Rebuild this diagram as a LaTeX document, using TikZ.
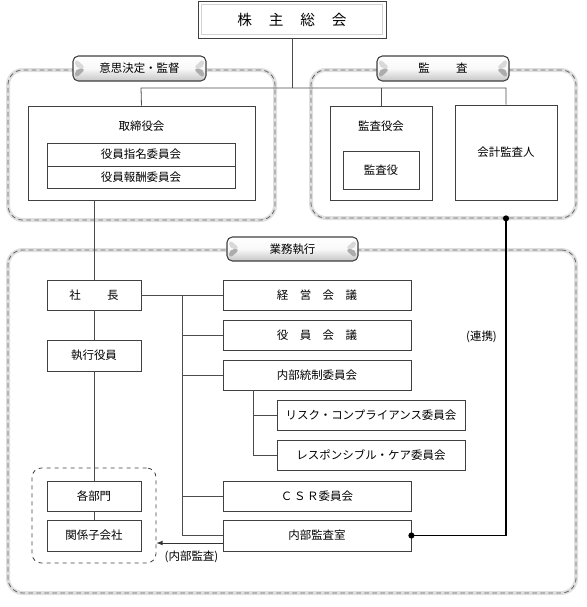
\documentclass[tikz,border=0pt]{standalone}
\usepackage{fontspec}
\usepackage{xcolor}
\usepackage{tikz}
\usetikzlibrary{shapes, arrows, positioning}
\newfontfamily\jp{Noto Sans CJK JP}
\newlength{\pxu}
\setlength{\pxu}{0.75pt}

\begin{document}
\begin{tikzpicture}[
        x=0.75pt, y=-0.75pt,
        font=\jp\fontsize{8.6}{10}\selectfont,
        box/.style={rectangle, draw=black!75, fill=white, line width=0.6pt, inner sep=0pt},
        grp/.style={rectangle, rounded corners=11pt, draw=black!60, dash pattern=on 3.5pt off 2.5pt, line width=0.6pt,
            preaction={draw=gray!25, line width=3pt, solid}},
        subgrp/.style={rectangle, rounded corners=7pt, draw=black!75, dashed, line width=0.6pt},
        lbl/.style={rectangle, rounded corners=4pt, draw=black!75, line width=0.8pt,
            top color=white, bottom color=gray!45, middle color=gray!5, inner sep=0pt,
            path picture={
                \fill[gray!30] ([shift={(1.5pt,-1.5pt)}]path picture bounding box.north west) -- ([xshift=10pt]path picture bounding box.west) -- ([xshift=1.5pt]path picture bounding box.west) -- cycle;
                \fill[gray!65] ([shift={(1.5pt,1.5pt)}]path picture bounding box.south west) -- ([xshift=10pt]path picture bounding box.west) -- ([xshift=1.5pt]path picture bounding box.west) -- cycle;
                \fill[gray!30] ([shift={(-1.5pt,-1.5pt)}]path picture bounding box.north east) -- ([xshift=-10pt]path picture bounding box.east) -- ([xshift=-1.5pt]path picture bounding box.east) -- cycle;
                \fill[gray!65] ([shift={(-1.5pt,1.5pt)}]path picture bounding box.south east) -- ([xshift=-10pt]path picture bounding box.east) -- ([xshift=-1.5pt]path picture bounding box.east) -- cycle;
            }},
        conn/.style={draw=black!70, line width=0.6pt},
        arrow/.style={->, >=latex, draw=black!80, line width=0.6pt},
        link/.style={draw=black, line width=1.1pt}
    ]
    \useasboundingbox (0,0) rectangle (586,607);

    % --- Groups ---
    \node[grp, minimum width=267\pxu, minimum height=150\pxu] (decGrp) at (141.5,145) {};
    \node[grp, minimum width=265\pxu, minimum height=148\pxu] (audGrp) at (443.5,144) {};
    \node[grp, minimum width=568\pxu, minimum height=343\pxu] (exeGrp) at (292,421.5) {};
    \node[subgrp, minimum width=124\pxu, minimum height=95\pxu] (subsGrp) at (94,515.5) {};

    \node[lbl, minimum width=133\pxu, minimum height=25\pxu] (decLbl) at (139.5,68.5) {意思決定・監督};
    \node[lbl, minimum width=132\pxu, minimum height=25\pxu] (audLbl) at (443,68.5) {監\hspace{2.3em}査};
    \node[lbl, minimum width=131\pxu, minimum height=24\pxu] (exeLbl) at (292.5,249) {業務執行};

    % --- Shareholders ---
    \node[box, minimum width=188\pxu, minimum height=37\pxu, font=\jp\fontsize{11}{13}\selectfont] (agm) at (292,19.5)
        {株\hspace{1.15em}主\hspace{1.15em}総\hspace{1.15em}会};
    \draw[gray!35, line width=1pt] ([shift={(3pt,-3pt)}]agm.north west) rectangle ([shift={(-3pt,3pt)}]agm.south east);

    % --- Decision / supervision ---
    \node[box, minimum width=227\pxu, minimum height=94\pxu,
        label={[anchor=center, yshift=-21\pxu]north:取締役会}] (board) at (141.5,153) {};
    \node[box, minimum width=188\pxu, minimum height=23\pxu] (nom) at (141,154.5) {役員指名委員会};
    \node[box, minimum width=188\pxu, minimum height=22\pxu] (rem) at (141,177) {役員報酬委員会};

    % --- Audit ---
    \node[box, minimum width=102\pxu, minimum height=94\pxu,
        label={[anchor=center, yshift=-21\pxu]north:監査役会}] (audBoard) at (381,153) {};
    \node[box, minimum width=76\pxu, minimum height=38\pxu] (auditors) at (381,170) {監査役};
    \node[box, minimum width=102\pxu, minimum height=95\pxu] (accAud) at (506,152.5) {会計監査人};

    % --- Execution ---
    \node[box, minimum width=94\pxu, minimum height=30\pxu] (ceo) at (94,295) {社\hspace{2.3em}長};
    \node[box, minimum width=94\pxu, minimum height=31\pxu] (exo) at (94,355.5) {執行役員};
    \node[box, minimum width=94\pxu, minimum height=30\pxu] (dept) at (94,496) {各部門};
    \node[box, minimum width=94\pxu, minimum height=31\pxu] (subs) at (94,535.5) {関係子会社};

    \node[box, minimum width=188\pxu, minimum height=30\pxu] (mgmt) at (317,295) {経　営　会　議};
    \node[box, minimum width=188\pxu, minimum height=30\pxu] (offm) at (317,335) {役　員　会　議};
    \node[box, minimum width=188\pxu, minimum height=30\pxu] (icc) at (317,375) {内部統制委員会};
    \node[box, minimum width=188\pxu, minimum height=30\pxu] (risk) at (371,415) {リスク・コンプライアンス委員会};
    \node[box, minimum width=188\pxu, minimum height=30\pxu] (resp) at (371,455) {レスポンシブル・ケア委員会};
    \node[box, minimum width=188\pxu, minimum height=30\pxu] (csr) at (317,496) {Ｃ\hspace{.15em}Ｓ\hspace{.15em}Ｒ委員会};
    \node[box, minimum width=188\pxu, minimum height=31\pxu] (ia) at (317,535.5) {内部監査室};

    \node (linkNote) at (481.5,337) {(連携)};
    \node (iaNote) at (191.5,557) {(内部監査)};

    % --- Connectors ---
    \coordinate (bus) at (141,88);
    \draw[conn] (agm.south) -- (agm.south |- bus);
    \draw[conn] (board.north) -- (bus) -| (accAud.north);
    \draw[conn] (audBoard.north) -- (audBoard.north |- bus);

    \draw[conn] (ceo.north) -- (ceo.north |- board.south);
    \draw[conn] (ceo.south) -- (exo.north);
    \draw[conn] (exo.south) -- (dept.north);
    \draw[conn] (dept.south) -- (subs.north);

    \coordinate (trunk) at (182,295);
    \draw[conn] (ceo.east) -- (mgmt.west);
    \draw[conn] (trunk) |- (ia.west);
    \draw[conn] (trunk |- offm) -- (offm.west);
    \draw[conn] (trunk |- icc) -- (icc.west);
    \draw[conn] (trunk |- csr) -- (csr.west);

    \coordinate (subTrunk) at (253,390);
    \draw[conn] (subTrunk) |- (resp.west);
    \draw[conn] (subTrunk |- risk) -- (risk.west);

    \draw[arrow] ([yshift=-7.5\pxu]ia.west) -- ([yshift=-7.5\pxu]ia.west -| subsGrp.east);

    % --- Link (audit) ---
    \draw[link] (accAud.south |- audGrp.south) |- (ia.east);
    \fill (accAud.south |- audGrp.south) circle (2.3pt);
    \fill (ia.east) circle (2.3pt);

\end{tikzpicture}
\end{document}
